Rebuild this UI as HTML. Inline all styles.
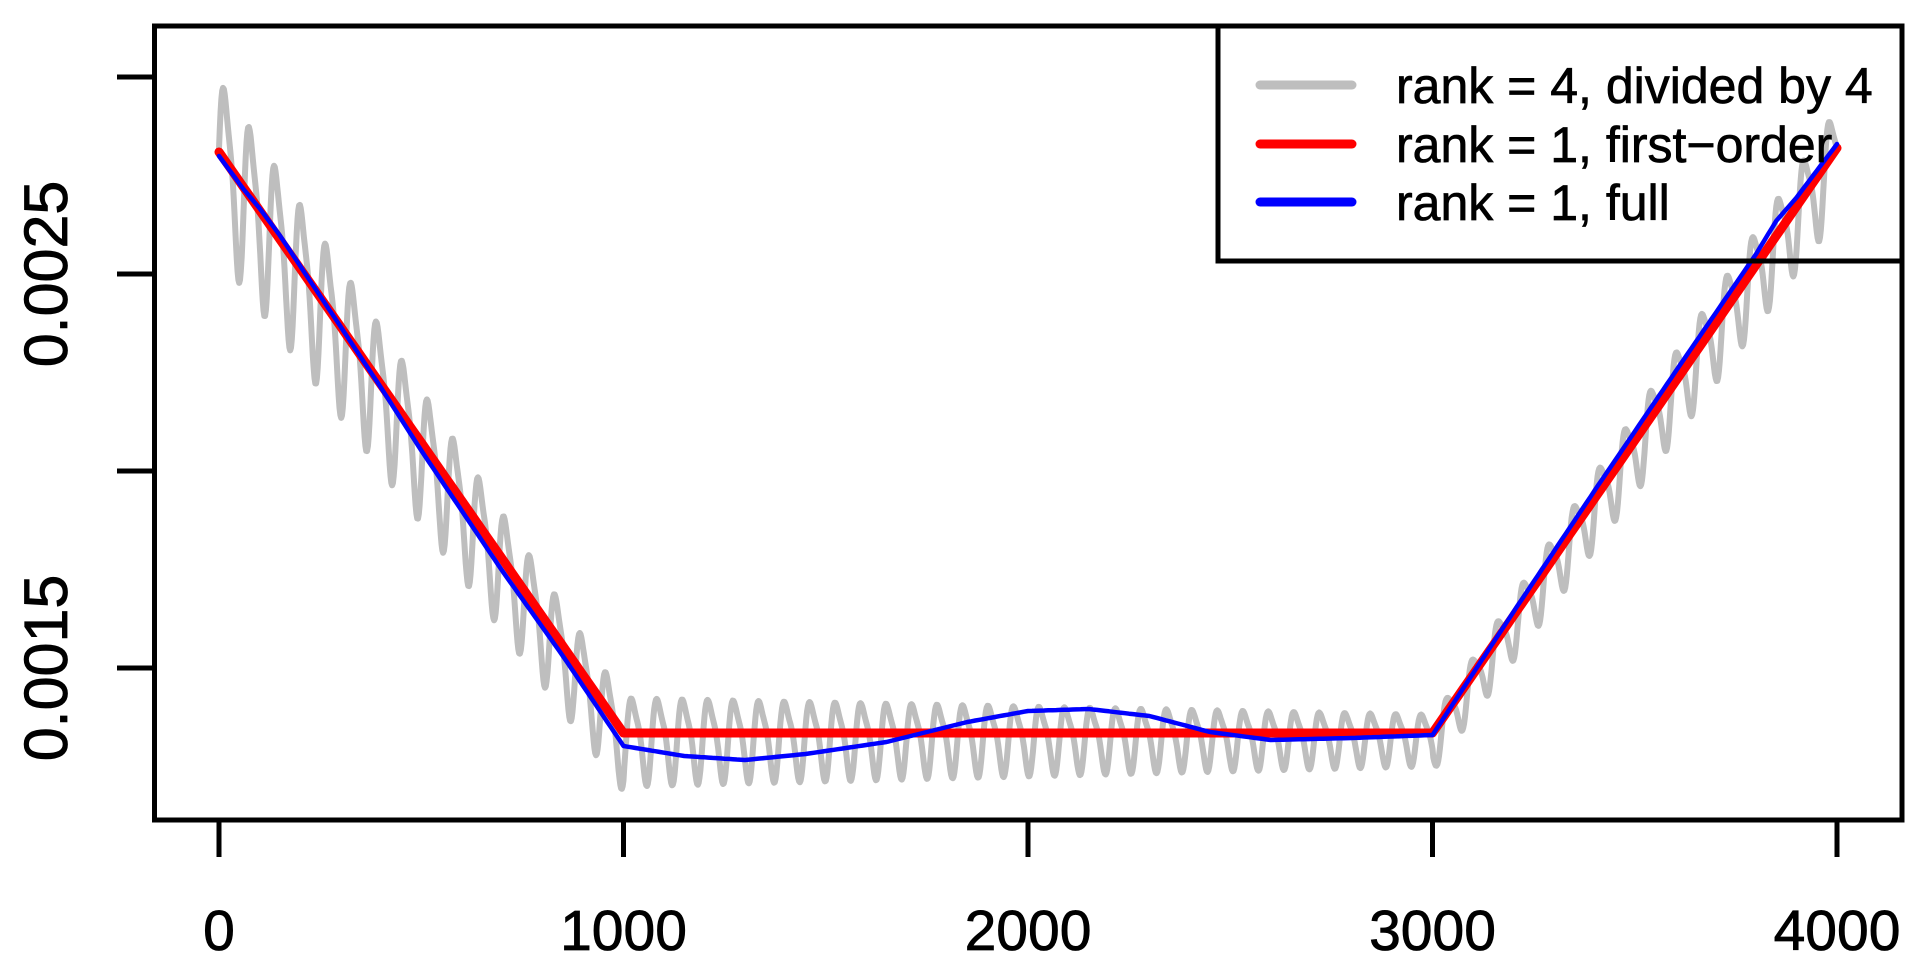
<!DOCTYPE html>
<html><head><meta charset="utf-8"><style>
html,body{margin:0;padding:0;background:#fff;}
svg{display:block;font-family:"Liberation Sans",Arial,sans-serif;}
</style></head><body>
<svg id="s" width="1924" height="969" viewBox="0 0 1924 969" xmlns="http://www.w3.org/2000/svg">
<rect width="1924" height="969" fill="#fff"/>
<g id="curves" fill="none" stroke-linejoin="round" stroke-linecap="round"></g>
<rect x="154.5" y="26" width="1747.5" height="794" fill="none" stroke="#000" stroke-width="5"/>
<g stroke="#000" stroke-width="5">
<line x1="117" y1="77" x2="154" y2="77"/>
<line x1="117" y1="274" x2="154" y2="274"/>
<line x1="117" y1="471" x2="154" y2="471"/>
<line x1="117" y1="668" x2="154" y2="668"/>
<line x1="219" y1="820" x2="219" y2="857"/>
<line x1="623.5" y1="820" x2="623.5" y2="857"/>
<line x1="1028" y1="820" x2="1028" y2="857"/>
<line x1="1432.5" y1="820" x2="1432.5" y2="857"/>
<line x1="1837" y1="820" x2="1837" y2="857"/>
</g>
<g font-size="57" text-anchor="middle" fill="#000" stroke="#000" stroke-width="0.8">
<text x="219" y="950">0</text>
<text x="623.5" y="950">1000</text>
<text x="1028" y="950">2000</text>
<text x="1432.5" y="950">3000</text>
<text x="1837" y="950">4000</text>
<text transform="translate(67,274) rotate(-90)" font-size="61">0.0025</text>
<text transform="translate(67,668) rotate(-90)" font-size="61">0.0015</text>
</g>
<rect x="1218" y="26" width="684" height="235" fill="none" stroke="#000" stroke-width="5"/>
<g stroke-width="9" stroke-linecap="round">
<line x1="1260" y1="85" x2="1352" y2="85" stroke="#bebebe"/>
<line x1="1260" y1="144" x2="1352" y2="144" stroke="#ff0000"/>
<line x1="1260" y1="202" x2="1352" y2="202" stroke="#0000ff"/>
</g>
<g font-size="50" fill="#000" stroke="#000" stroke-width="0.7">
<text x="1396" y="103">rank = 4, divided by 4</text>
<text x="1396" y="162">rank = 1, first−order</text>
<text x="1396" y="220">rank = 1, full</text>
</g>
</svg>
<script>
(function(){
var g=document.getElementById('curves');
function X(t){return 219+t*0.4045;}
function red(t){
 if(t<=1000) return 152+(733-152)*t/1000;
 if(t<=3000) return 733;
 return 733+(148-733)*(t-3000)/1000;
}
function interp(k,t){
 for(var i=1;i<k.length;i++){if(t<=k[i][0]){var a=k[i-1],b=k[i];return a[1]+(b[1]-a[1])*(t-a[0])/(b[0]-a[0]);}}
 return k[k.length-1][1];
}
var dk=[[0,4],[60,2],[100,-2],[150,-4],[300,0],[400,3],[500,8],[700,12],[850,10],[1000,13]];
var fk=[[1000,746],[1150,756],[1300,760],[1450,754],[1650,742],[1850,722],[2000,711],[2150,709],[2300,716],[2450,732],[2600,740],[2800,738],[3000,735]];
var ak=[[3000,2],[3200,-4],[3400,-8],[3600,-10],[3800,-11],[3850,-15],[3900,-9],[4000,-4]];
function blue(t){
 if(t<=1000) return red(t)+interp(dk,t);
 if(t<=3000) return interp(fk,t);
 return red(t)+interp(ak,t);
}
function amp(t){
 if(t<=1000) return 95-45*t/1000;
 if(t<=2000) return 48-10*(t-1000)/1000;
 if(t<=3000) return 38-10*(t-2000)/1000;
 return 28+30*(t-3000)/1000;
}
function off(t){ if(t<=1000) return 8; if(t<=3000) return 5; return 10;}
var d='';
for(var t=0;t<=4000;t+=2){
 var ph=2*Math.PI*t/63;
 var v=Math.sin(ph)+0.25*Math.sin(2*ph+0.6);
 var y=red(t)+off(t)-amp(t)*v*0.85;
 d+=(t?'L':'M')+X(t).toFixed(1)+' '+y.toFixed(1);
}
function mk(dd,c,w){var p=document.createElementNS('http://www.w3.org/2000/svg','path');p.setAttribute('d',dd);p.setAttribute('stroke',c);p.setAttribute('stroke-width',w);g.appendChild(p);}
mk(d,'#bebebe',6);
var dr='';for(var t=0;t<=4000;t+=20){dr+=(t?'L':'M')+X(t).toFixed(1)+' '+red(t).toFixed(1);}
mk(dr,'#ff0000',9);
var db='';for(var t=0;t<=4000;t+=10){db+=(t?'L':'M')+X(t).toFixed(1)+' '+blue(t).toFixed(1);}
mk(db,'#0000ff',4.5);
})();
</script>
</body></html>
